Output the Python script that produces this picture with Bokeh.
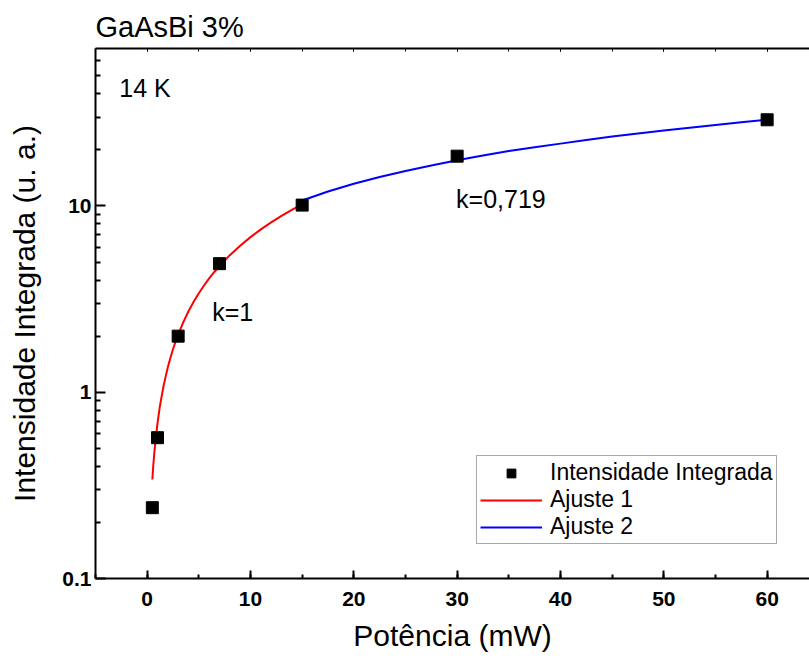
from bokeh.plotting import figure
from bokeh.models import (Range1d, LinearAxis, FixedTicker, SingleIntervalTicker, Label,
                          Legend, LegendItem)
from bokeh.embed import file_html
from bokeh.resources import INLINE

# measured data
power = [0.5, 1, 3, 7, 15, 30, 60]
intensity = [0.24, 0.57, 2.0, 4.9, 10.1, 18.5, 29.0]

# fit 1 (k=1)
fit1_x = [0.5, 0.6, 0.7, 0.8, 0.9, 1, 1.2, 1.4, 1.6, 1.8, 2, 2.25, 2.5, 2.75, 3, 3.5,
          4, 4.5, 5, 5.5, 6, 6.5, 7, 8, 9, 10, 11, 12, 13, 14, 15]
fit1_y = [0.34, 0.41, 0.48, 0.54, 0.61, 0.68, 0.82, 0.95, 1.09, 1.22, 1.36, 1.53, 1.7,
          1.87, 2.04, 2.38, 2.72, 3.06, 3.4, 3.74, 4.08, 4.42, 4.76, 5.44, 6.12, 6.8,
          7.48, 8.16, 8.84, 9.52, 10.2]

# fit 2 (k=0,719)
fit2_x = [15, 17.5, 20, 22.5, 25, 27.5, 30, 32.5, 35, 37.5, 40, 42.5, 45, 47.5, 50,
          52.5, 55, 57.5, 60]
fit2_y = [10.7, 11.95, 13.15, 14.3, 15.4, 16.5, 17.6, 18.65, 19.7, 20.65, 21.6, 22.6,
          23.6, 24.5, 25.4, 26.3, 27.2, 28.1, 29.0]

y_major = [0.1, 1, 10]
y_minor = [0.2, 0.3, 0.4, 0.5, 0.6, 0.7, 0.8, 0.9,
           2, 3, 4, 5, 6, 7, 8, 9, 20, 30, 40, 50, 60]

FONT = "Liberation Sans"

p = figure(width=809, height=659, y_axis_type="log",
           x_range=Range1d(-5, 64.1), y_range=Range1d(0.1, 70),
           output_backend="svg", toolbar_location=None,
           min_border_left=95, min_border_right=0, min_border_top=48,
           min_border_bottom=81, background_fill_color="white",
           border_fill_color="white")
p.outline_line_color = None
p.grid.visible = False

# title
p.title.text = "GaAsBi 3%"
p.title.text_font = FONT
p.title.text_font_size = "29px"
p.title.text_font_style = "normal"
p.title.text_color = "black"
p.title.align = "left"
p.title.standoff = 12

# bottom axis
xa = p.xaxis[0]
xa.ticker = SingleIntervalTicker(interval=10, num_minor_ticks=2)
xa.axis_label = "Potência (mW)"
# left axis
ya = p.yaxis[0]
ya.ticker = FixedTicker(ticks=y_major, minor_ticks=y_minor)
ya.major_label_overrides = {0.1: "0.1", 1: "1", 10: "10"}
ya.axis_label = "Intensidade Integrada (u. a.)"

for ax in (xa, ya):
    ax.axis_line_width = 2
    ax.axis_line_color = "black"
    ax.major_tick_line_width = 2
    ax.minor_tick_line_width = 2
    ax.major_tick_out = 0
    ax.minor_tick_out = 0
    ax.major_label_text_font = FONT
    ax.major_label_text_font_style = "bold"
    ax.major_label_text_font_size = "21px"
    ax.major_label_text_color = "black"
    ax.axis_label_text_font = FONT
    ax.axis_label_text_font_style = "normal"
    ax.axis_label_text_font_size = "30px"
    ax.axis_label_text_color = "black"
xa.major_tick_in = 8
xa.minor_tick_in = 4
xa.major_label_standoff = 13
xa.axis_label_standoff = 10
ya.major_tick_in = 10
ya.minor_tick_in = 5
ya.major_label_standoff = 4
ya.axis_label_standoff = 18

# top axis (ticks only)
ta = LinearAxis(ticker=SingleIntervalTicker(interval=10, num_minor_ticks=2))
ta.axis_line_width = 2
ta.major_tick_in = 3
ta.minor_tick_in = 3
ta.major_tick_out = 0
ta.minor_tick_out = 0
ta.major_label_overrides = {t: "" for t in [-10, 0, 10, 20, 30, 40, 50, 60, 70]}
ta.major_label_standoff = 0
p.add_layout(ta, "above")

# fits and data
r1 = p.line(fit1_x, fit1_y, line_color="#ff0000", line_width=2)
r2 = p.line(fit2_x, fit2_y, line_color="#0000ff", line_width=2)
r0 = p.scatter(power, intensity, marker="square", size=12,
               fill_color="black", line_color="black")

legend = Legend(items=[LegendItem(label="Intensidade Integrada", renderers=[r0]),
                       LegendItem(label="Ajuste 1", renderers=[r1]),
                       LegendItem(label="Ajuste 2", renderers=[r2])],
                location=(381, 34))
legend.label_text_font = FONT
legend.label_text_font_size = "23px"
legend.label_text_color = "black"
legend.glyph_width = 62
legend.glyph_height = 22
legend.label_height = 22
legend.label_standoff = 8
legend.spacing = 0
legend.padding = 3
legend.margin = 0
legend.border_line_color = "#555555"
legend.border_line_width = 1
legend.background_fill_color = "white"
legend.background_fill_alpha = 1
p.add_layout(legend, "center")

for txt, x, y in [("14 K", -2.7, 42.9), ("k=1", 6.3, 2.69), ("k=0,719", 29.9, 10.9)]:
    p.add_layout(Label(x=x, y=y, text=txt, text_font=FONT, text_font_size="25px",
                       text_baseline="alphabetic", text_color="black"))

open("out.html", "w").write(file_html(p, INLINE))
